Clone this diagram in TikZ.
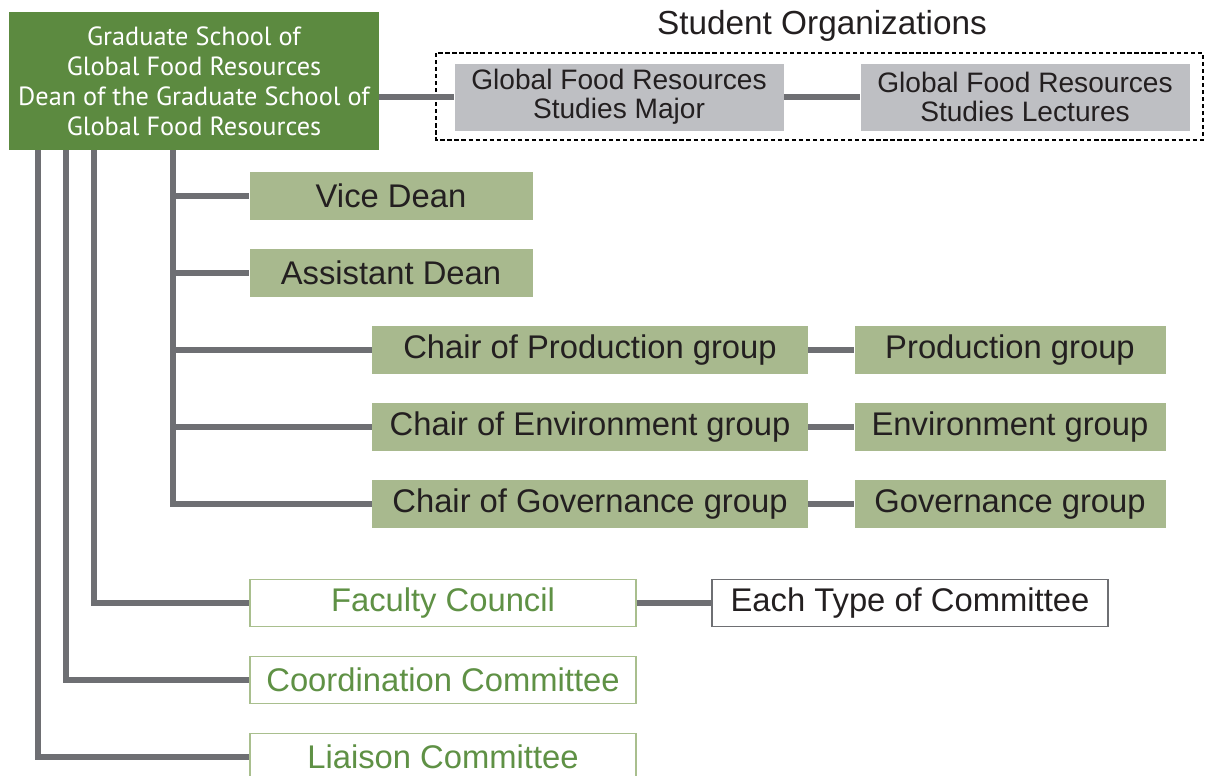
\documentclass[tikz,border=0pt]{standalone}
\usepackage{fontspec}
\setmainfont{Liberation Sans}
\newfontfamily\deanfont{PT Sans}
\usetikzlibrary{positioning}

\definecolor{deangreen}{RGB}{92,138,64}
\definecolor{boxgreen}{RGB}{168,185,142}
\definecolor{boxgray}{RGB}{190,191,195}
\definecolor{linkgray}{RGB}{110,111,115}
\definecolor{textdark}{RGB}{35,31,32}
\definecolor{comgreen}{RGB}{95,145,69}
\definecolor{comborder}{RGB}{169,191,142}

\begin{document}
\begin{tikzpicture}[x=0.025cm,y=-0.025cm]
    \tikzset{dean/.style    = {fill=deangreen, text=white,
        minimum width=370*0.025cm, minimum height=138*0.025cm,
        align=center, font=\deanfont\fontsize{18.7}{21.4}\selectfont},
      post/.style   = {fill=boxgreen, text=textdark, inner sep=0pt,
        minimum height=48*0.025cm, font=\fontsize{23.3}{26}\selectfont},
      orgbox/.style = {fill=boxgray, text=textdark, align=center, inner sep=0pt,
        minimum width=329*0.025cm, minimum height=67*0.025cm,
        font=\fontsize{20}{20.6}\selectfont},
      council/.style = {draw=comborder, line width=1pt, fill=white, text=comgreen,
        inner sep=0pt, minimum width=386*0.025cm, minimum height=47*0.025cm,
        font=\fontsize{23.3}{26}\selectfont},
      link/.style   = {draw=linkgray, line width=3.6pt}
      }
    \useasboundingbox (0,0) rectangle (1206,776);

    % Draw the dean and the student organizations.
    \node[dean] (dean) at (194,81) {Graduate School of\\Global Food Resources\\Dean of the Graduate School of\\Global Food Resources};
    \draw[dashed, line width=0.8pt, dash pattern=on 3pt off 2pt] (436,53) rectangle (1203,140);
    \node[font=\fontsize{23.7}{26}\selectfont, text=textdark] (orgs) at (822,26) {Student Organizations};
    \node[orgbox] (major) at (619,97) {Global Food Resources\\Studies Major};
    \node[orgbox] (lect) at (1025,97) {Global Food Resources\\Studies Lectures};
    \draw[link] (dean.east |- major) -- (major.west);
    \draw[link] (major) -- (lect);

    % Draw the vice and assistant deans.
    \node[post, minimum width=283*0.025cm] (vice) at (391,196) {Vice Dean};
    \node[post, minimum width=283*0.025cm] (asst) at (391,273) {Assistant Dean};

    % Draw the chairs and their groups.
    \node[post, minimum width=436*0.025cm] (chprod) at (590,350) {Chair of Production group};
    \node[post, minimum width=436*0.025cm] (chenv) at (590,427) {Chair of Environment group};
    \node[post, minimum width=436*0.025cm] (chgov) at (590,504) {Chair of Governance group};
    \node[post, minimum width=311*0.025cm] (prod) at (1010,350) {Production group};
    \node[post, minimum width=311*0.025cm] (env) at (1010,427) {Environment group};
    \node[post, minimum width=311*0.025cm] (gov) at (1010,504) {Governance group};
    \draw[link] (chprod) -- (prod);
    \draw[link] (chenv) -- (env);
    \draw[link] (chgov) -- (gov);

    % Draw the councils and committees.
    \node[council] (faculty) at (443,603) {Faculty Council};
    \node[council] (coord) at (443,680) {Coordination Committee};
    \node[council] (liaison) at (443,757) {Liaison Committee};
    \node[draw=linkgray, line width=1pt, inner sep=0pt, text=textdark,
      minimum width=396*0.025cm, minimum height=47*0.025cm,
      font=\fontsize{23.3}{26}\selectfont] (each) at (910,603) {Each Type of Committee};
    \draw[link] (faculty) -- (each);

    % Draw the trunks from the dean.
    \coordinate (trA) at (38,150);
    \coordinate (trB) at (66,150);
    \coordinate (trC) at (94,150);
    \coordinate (trD) at (173,150);
    \foreach \n in {vice, asst, chprod, chenv, chgov}
      \draw[link] (trD) |- (\n.west);
    \draw[link] (trC) |- (faculty.west);
    \draw[link] (trB) |- (coord.west);
    \draw[link] (trA) |- (liaison.west);
\end{tikzpicture}
\end{document}
